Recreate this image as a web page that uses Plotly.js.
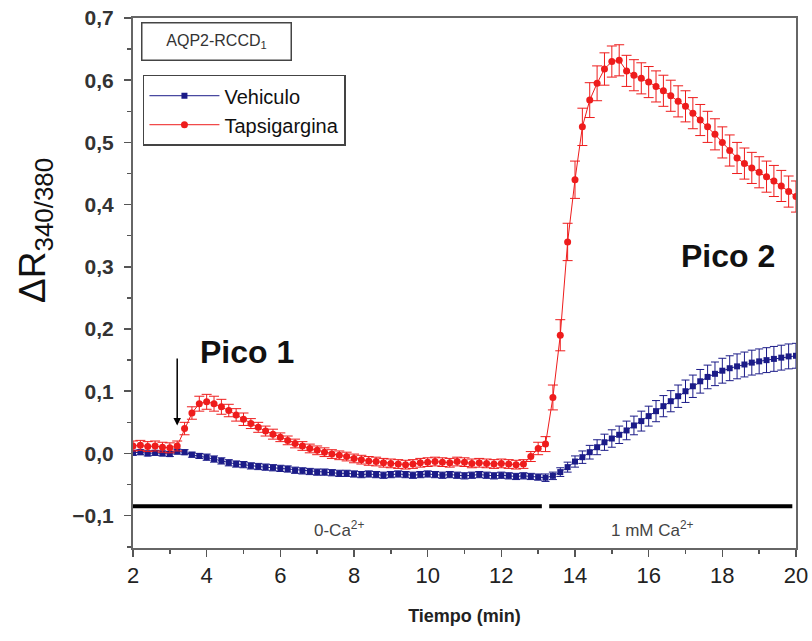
<!DOCTYPE html>
<html>
<head>
<meta charset="utf-8">
<script src="https://cdn.plot.ly/plotly-3.0.1.min.js"></script>
<style>html,body{margin:0;padding:0;background:#fff;}#chart{width:812px;height:641px;}</style>
</head>
<body>
<div id="chart"></div>
<script>
const time = [2.0,2.2,2.4,2.6,2.8,3.0,3.2,3.4,3.6,3.8,4.0,4.2,4.4,4.6,4.8,5.0,5.2,5.4,5.6,5.8,6.0,6.2,6.4,6.6,6.8,7.0,7.2,7.4,7.6,7.8,8.0,8.2,8.4,8.6,8.8,9.0,9.2,9.4,9.6,9.8,10.0,10.2,10.4,10.6,10.8,11.0,11.2,11.4,11.6,11.8,12.0,12.2,12.4,12.6,12.8,13.0,13.2,13.4,13.6,13.8,14.0,14.2,14.4,14.6,14.8,15.0,15.2,15.4,15.6,15.8,16.0,16.2,16.4,16.6,16.8,17.0,17.2,17.4,17.6,17.8,18.0,18.2,18.4,18.6,18.8,19.0,19.2,19.4,19.6,19.8,20.0];

const vehiculo = [0.001,0.002,0.000,0.001,0.000,
  -0.001,0.003,0.002,-0.002,-0.004,
  -0.006,-0.009,-0.012,-0.015,-0.017,
  -0.018,-0.020,-0.021,-0.022,-0.023,
  -0.024,-0.025,-0.027,-0.028,-0.029,
  -0.030,-0.030,-0.031,-0.032,-0.032,
  -0.033,-0.034,-0.033,-0.034,-0.035,
  -0.034,-0.033,-0.034,-0.035,-0.034,
  -0.033,-0.034,-0.035,-0.034,-0.035,
  -0.036,-0.035,-0.034,-0.035,-0.036,
  -0.035,-0.036,-0.037,-0.036,-0.037,
  -0.038,-0.039,-0.036,-0.030,-0.022,
  -0.013,-0.006,0.002,0.010,0.018,
  0.024,0.030,0.037,0.045,0.052,
  0.060,0.068,0.076,0.084,0.092,
  0.100,0.108,0.116,0.123,0.128,
  0.133,0.137,0.140,0.143,0.146,
  0.148,0.150,0.152,0.154,0.156,
  0.157];

const vehiculoErr = [0.004,0.004,0.004,0.004,0.004,
  0.004,0.004,0.004,0.004,0.004,
  0.005,0.005,0.005,0.005,0.005,
  0.005,0.005,0.005,0.005,0.005,
  0.005,0.005,0.005,0.005,0.005,
  0.005,0.005,0.005,0.005,0.005,
  0.005,0.005,0.005,0.005,0.005,
  0.005,0.005,0.005,0.005,0.005,
  0.005,0.005,0.005,0.005,0.005,
  0.005,0.005,0.005,0.005,0.005,
  0.005,0.005,0.005,0.005,0.005,
  0.005,0.006,0.006,0.007,0.008,
  0.009,0.010,0.011,0.012,0.013,
  0.014,0.014,0.015,0.015,0.016,
  0.016,0.017,0.017,0.017,0.018,
  0.018,0.018,0.019,0.019,0.019,
  0.020,0.020,0.020,0.020,0.020,
  0.020,0.020,0.020,0.020,0.020,
  0.020];

const tapsigargina = [0.012,0.013,0.011,0.012,0.010,
  0.009,0.012,0.040,0.065,0.080,
  0.083,0.080,0.075,0.069,0.062,
  0.055,0.048,0.042,0.036,0.031,
  0.026,0.021,0.016,0.012,0.008,
  0.005,0.002,-0.001,-0.003,-0.005,
  -0.008,-0.010,-0.012,-0.013,-0.015,
  -0.016,-0.017,-0.018,-0.017,-0.015,
  -0.014,-0.013,-0.014,-0.015,-0.013,
  -0.014,-0.016,-0.015,-0.016,-0.017,
  -0.016,-0.017,-0.018,-0.017,-0.005,
  0.008,0.015,0.090,0.190,0.340,
  0.440,0.525,0.568,0.595,0.618,
  0.630,0.632,0.615,0.608,0.603,
  0.597,0.590,0.583,0.575,0.566,
  0.558,0.547,0.536,0.525,0.513,
  0.500,0.487,0.475,0.466,0.459,
  0.452,0.445,0.438,0.430,0.421,
  0.413];

const tapsigarginaErr = [0.008,0.008,0.008,0.008,0.008,
  0.008,0.008,0.010,0.010,0.012,
  0.012,0.012,0.012,0.010,0.010,
  0.010,0.008,0.008,0.008,0.008,
  0.007,0.007,0.007,0.007,0.007,
  0.007,0.007,0.007,0.007,0.007,
  0.007,0.007,0.007,0.007,0.007,
  0.007,0.007,0.007,0.007,0.007,
  0.007,0.007,0.007,0.007,0.007,
  0.007,0.007,0.007,0.007,0.007,
  0.007,0.007,0.007,0.007,0.008,
  0.010,0.012,0.020,0.025,0.030,
  0.030,0.030,0.028,0.028,0.026,
  0.025,0.025,0.025,0.025,0.025,
  0.025,0.025,0.025,0.025,0.025,
  0.025,0.025,0.025,0.025,0.025,
  0.025,0.025,0.025,0.025,0.025,
  0.025,0.025,0.025,0.025,0.025,
  0.025];

const seriesNames = ['Vehiculo', 'Tapsigargina'];
const xTickVals = [2,4,6,8,10,12,14,16,18,20];
const phaseStart = [2.0, 13.3];
const phaseEnd = [13.1, 19.9];
const phaseLevel = [-0.085, -0.085];
const phaseLabels = ['0-Ca<sup>2+</sup>', '1 mM Ca<sup>2+</sup>'];
const phaseLabelX = [7.6, 16.1];
const phaseLabelY = [-0.122, -0.122];
const peakLabels = ['Pico 1', 'Pico 2'];
const peakLabelX = [5.1, 18.15];
const peakLabelY = [0.163, 0.318];
const arrowX = 3.2, arrowFrom = 0.155, arrowTo = 0.045;
const yTitleText = 'ΔR<sub>340/380</sub>';
const panelLabel = 'AQP2-RCCD<sub>1</sub>';

const blue = '#1b1b88';
const red = '#ee1c1c';
const FONT = 'Liberation Sans, Arial, sans-serif';

const traces = [
  {
    x: time, y: vehiculo, name: seriesNames[0], type: 'scatter', mode: 'lines+markers',
    line: {color: blue, width: 1},
    marker: {color: blue, symbol: 'square', size: 6},
    error_y: {type: 'data', array: vehiculoErr, visible: true, color: blue, thickness: 1, width: 4}
  },
  {
    x: time, y: tapsigargina, name: seriesNames[1], type: 'scatter', mode: 'lines+markers',
    line: {color: red, width: 1},
    marker: {color: red, symbol: 'circle', size: 7},
    error_y: {type: 'data', array: tapsigarginaErr, visible: true, color: red, thickness: 1, width: 5}
  }
];

const shapes = phaseStart.map((s, i) => ({
  type: 'line', xref: 'x', yref: 'y', x0: s, x1: phaseEnd[i], y0: phaseLevel[i], y1: phaseLevel[i],
  line: {color: '#000', width: 4}
}));

const annotations = [];
phaseLabels.forEach((t, i) => annotations.push({
  x: phaseLabelX[i], y: phaseLabelY[i], xref: 'x', yref: 'y', text: t, showarrow: false,
  font: {family: FONT, size: 17, color: '#444'}
}));
peakLabels.forEach((t, i) => annotations.push({
  x: peakLabelX[i], y: peakLabelY[i], xref: 'x', yref: 'y', text: '<b>' + t + '</b>', showarrow: false,
  font: {family: FONT, size: 32, color: '#111'}
}));
annotations.push({
  x: arrowX, y: arrowTo, ax: arrowX, ay: arrowFrom, xref: 'x', yref: 'y', axref: 'x', ayref: 'y',
  text: '', showarrow: true, arrowhead: 2, arrowsize: 1, arrowwidth: 1.5, arrowcolor: '#000'
});
annotations.push({
  x: 0.012, y: 0.993, xref: 'paper', yref: 'paper', xanchor: 'left', yanchor: 'top',
  text: panelLabel, showarrow: false, width: 146, height: 34, align: 'center',
  bordercolor: '#444', borderwidth: 1.5, bgcolor: '#fff',
  font: {family: FONT, size: 16, color: '#333'}
});
annotations.push({
  x: -0.148, y: 0.6, xref: 'paper', yref: 'paper', xanchor: 'center', yanchor: 'middle',
  text: yTitleText, showarrow: false, textangle: -90,
  font: {family: FONT, size: 37, color: '#111'}
});

const layout = {
  width: 812, height: 641,
  margin: {l: 133, r: 16, t: 18, b: 93},
  paper_bgcolor: '#fff', plot_bgcolor: '#fff',
  separators: ',.',
  showlegend: true,
  legend: {
    x: 0.015, y: 0.893, xanchor: 'left', yanchor: 'top',
    bordercolor: '#444', borderwidth: 1.5, bgcolor: '#fff',
    font: {family: FONT, size: 20, color: '#111'},
    tracegroupgap: 2, itemwidth: 70
  },
  xaxis: {
    range: [2, 20], tickvals: xTickVals, ticks: 'outside', ticklen: 7, tickwidth: 1.5, tickcolor: '#555',
    minor: {dtick: 1, ticks: 'outside', ticklen: 4, tickcolor: '#555'},
    showline: true, linecolor: '#666', linewidth: 2, mirror: true, showgrid: false, zeroline: false,
    tickfont: {family: FONT, size: 22, color: '#222'},
    title: {text: '<b>Tiempo (min)</b>', font: {family: FONT, size: 18, color: '#222'}, standoff: 22},
    automargin: false
  },
  yaxis: {
    range: [-0.152, 0.7], dtick: 0.1, tick0: 0, tickformat: '.1f', ticks: 'outside', ticklen: 7, tickwidth: 1.5, tickcolor: '#555',
    minor: {dtick: 0.05, ticks: 'outside', ticklen: 4, tickcolor: '#555'},
    showline: true, linecolor: '#666', linewidth: 2, mirror: true, showgrid: false, zeroline: false,
    ticklabelstandoff: 6,
    tickfont: {family: FONT, size: 21, color: '#333', weight: 'bold'},
    automargin: false
  },
  shapes: shapes,
  annotations: annotations
};

Plotly.newPlot('chart', traces, layout, {displayModeBar: false, staticPlot: true});
</script>
</body>
</html>
